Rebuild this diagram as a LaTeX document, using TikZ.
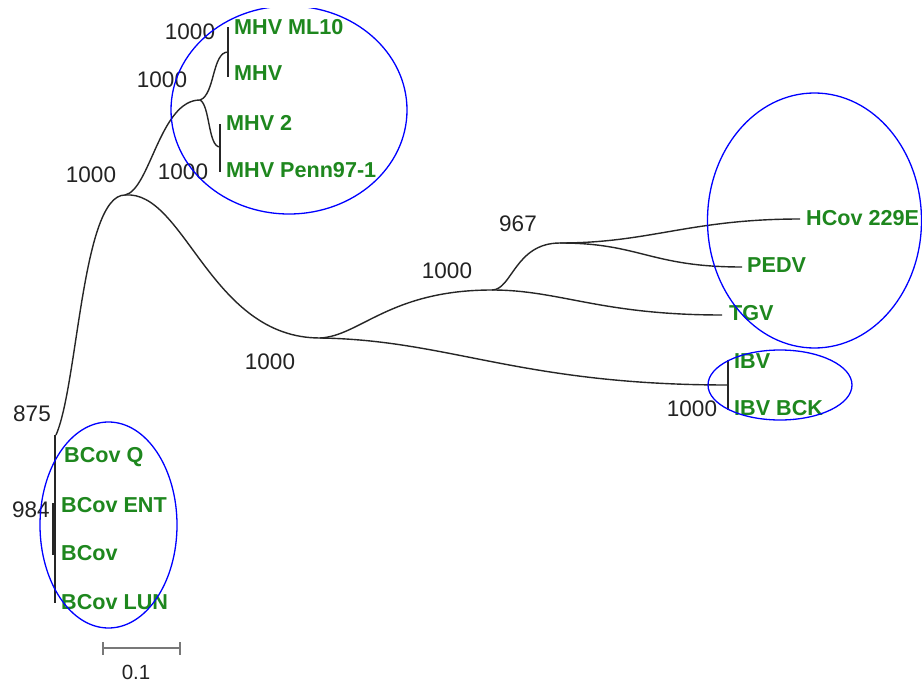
\documentclass[tikz,border=0pt]{standalone}
\usepackage{fontspec}
\setmainfont{Liberation Sans}
\definecolor{lgreen}{RGB}{30,135,30}
\definecolor{numgray}{RGB}{35,35,35}
\definecolor{bargray}{RGB}{120,120,120}
\begin{document}
\begin{tikzpicture}[x=1pt,y=-1pt,
  branch/.style={draw=black!85,line width=1.4pt},
  tipline/.style={draw=black!85,line width=1.6pt},
  clade/.style={draw=blue,line width=1.3pt},
  leaf/.style={anchor=west,inner sep=0pt,text=lgreen,font=\bfseries\fontsize{21.6}{24}\selectfont},
  boot/.style={inner sep=0pt,text=numgray,font=\fontsize{22.5}{24}\selectfont}]
\useasboundingbox (0,0) rectangle (922,688);
\fill[white] (0,0) rectangle (922,688);

% internal nodes
\coordinate (n875) at (56,435);
\coordinate (nA) at (125,195);
\coordinate (nMHV) at (200,100);
\coordinate (nML) at (228,52);
\coordinate (nM2) at (220,147);
\coordinate (nB) at (320,338);
\coordinate (nC) at (492,290);
\coordinate (nD) at (560,243);
\coordinate (nI) at (728,385);

% tips
\coordinate (tML10) at (228,27);
\coordinate (tMHV) at (228,77);
\coordinate (tM2) at (220,124);
\coordinate (tPenn) at (220,172);
\coordinate (tHC) at (800,219);
\coordinate (tPE) at (742,267);
\coordinate (tTG) at (722,315);
\coordinate (tIBV) at (728,360);
\coordinate (tIBK) at (728,410);
\coordinate (tBtop) at (55,435);
\coordinate (tBbot) at (55,603);
\coordinate (t984a) at (53.5,503);
\coordinate (t984b) at (53.5,555);

% branches
\draw[branch] (n875) .. controls (78,385) and (82,195) .. (nA);
\draw[branch] (nA) .. controls (150,190) and (160,100) .. (nMHV);
\draw[branch] (nMHV) .. controls (215,95) and (212,52) .. (nML);
\draw[branch] (nMHV) .. controls (210,105) and (208,147) .. (nM2);
\draw[branch] (nA) .. controls (185,190) and (210,338) .. (nB);
\draw[branch] (nB) .. controls (360,336) and (390,290) .. (nC);
\draw[branch] (nC) .. controls (512,290) and (515,243) .. (nD);
\draw[branch] (nD) .. controls (650,243) and (690,219) .. (tHC);
\draw[branch] (nD) .. controls (640,243) and (650,267) .. (tPE);
\draw[branch] (nC) .. controls (560,290) and (600,315) .. (tTG);
\draw[branch] (nB) .. controls (450,340) and (520,385) .. (nI);
\draw[tipline] (tML10) -- (tMHV);
\draw[tipline] (tM2) -- (tPenn);
\draw[tipline] (tIBV) -- (tIBK);
\draw[tipline] (tBtop) -- (tBbot);
\draw[line width=2.6pt,black!85] (t984a) -- (t984b);

% bootstrap values
\node[boot] (b1) at (190,32) {1000};
\node[boot] (b2) at (162,80) {1000};
\node[boot] (b3) at (91,175) {1000};
\node[boot] (b4) at (183,172) {1000};
\node[boot] (b5) at (270,362) {1000};
\node[boot] (b6) at (447,271) {1000};
\node[boot] (b7) at (518,224) {967};
\node[boot] (b8) at (692,409) {1000};
\node[boot] (b9) at (32,414) {875};
\node[boot] (b10) at (31,510) {984};

% leaf labels
\node[leaf] (lML10) at (234,27) {MHV ML10};
\node[leaf] (lMHV) at (234,73) {MHV};
\node[leaf] (lM2) at (226,123) {MHV 2};
\node[leaf] (lPenn) at (226,170) {MHV Penn97-1};
\node[leaf] (lHC) at (806,218) {HCov 229E};
\node[leaf] (lPE) at (747,265) {PEDV};
\node[leaf] (lTG) at (729,313) {TGV};
\node[leaf] (lIBV) at (734,361) {IBV};
\node[leaf] (lIBK) at (734,408) {IBV BCK};
\node[leaf] (lBQ) at (64,457) {BCov Q};
\node[leaf] (lBE) at (61,505) {BCov ENT};
\node[leaf] (lB) at (61,553) {BCov};
\node[leaf] (lBL) at (61,602) {BCov LUN};

% clade ellipses
\begin{scope}
\clip (0,8) rectangle (922,688);
\draw[clade] (289,110) ellipse [x radius=118pt, y radius=104pt];
\end{scope}
\draw[clade] (814.5,220.5) ellipse [x radius=107pt, y radius=127.5pt];
\draw[clade] (780,385) ellipse [x radius=72pt, y radius=35pt];
\draw[clade] (108.5,525) ellipse [x radius=68.5pt, y radius=103pt];

% scale bar
\coordinate (sL) at (103,648);
\coordinate (sR) at (180,648);
\draw[bargray,line width=1.3pt] (sL) -- (sR);
\draw[bargray,line width=1.3pt] ([yshift=6pt]sL) -- ([yshift=-7pt]sL);
\draw[bargray,line width=1.3pt] ([yshift=6pt]sR) -- ([yshift=-7pt]sR);
\node[boot,font=\fontsize{20.5}{22}\selectfont] (scl) at (136,672) {0.1};
\end{tikzpicture}
\end{document}
